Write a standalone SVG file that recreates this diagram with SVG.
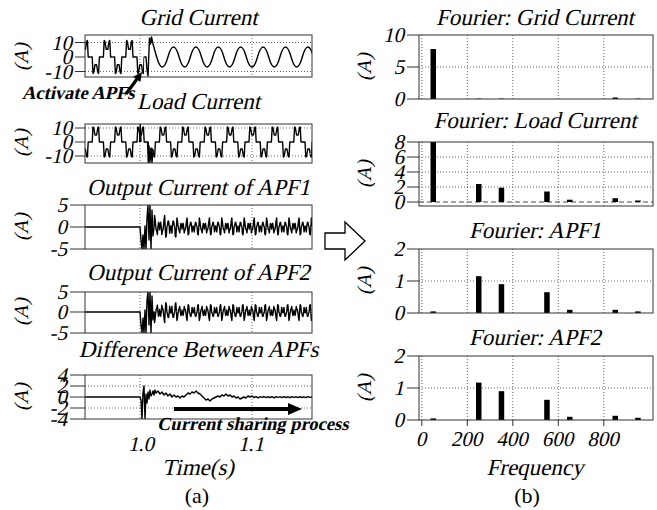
<svg xmlns="http://www.w3.org/2000/svg" width="657" height="510" viewBox="0 0 657 510">
<style>
text{font-family:"Liberation Serif","Times New Roman",serif;fill:#000;font-style:normal}
.ti{font-size:23px;text-anchor:middle}
.tk{font-size:21px;text-anchor:end}
.tx{font-size:21px;text-anchor:middle}
.ya{font-size:20px;text-anchor:middle}
.an{font-weight:bold;font-size:18.5px}
.cap{font-size:22px;text-anchor:middle}
.box{fill:none;stroke:#333;stroke-width:1}
.tick{stroke:#333;stroke-width:1;fill:none}
.grid{fill:none;stroke:#555;stroke-width:0.9;stroke-dasharray:1 2}
.dash{fill:none;stroke:#333;stroke-width:0.9;stroke-dasharray:5 3}
.sig{fill:none;stroke:#000;stroke-width:1.4;stroke-linejoin:round}
.bar{fill:#000}
.tiny{fill:#999}
</style>
<defs>
<clipPath id="c1"><rect x="85" y="35" width="227" height="42"/></clipPath>
<clipPath id="c1a"><rect x="85" y="35" width="59.2" height="42"/></clipPath>
<clipPath id="c2"><rect x="85" y="124" width="227" height="39"/></clipPath>
<clipPath id="c3"><rect x="85" y="205" width="227" height="44"/></clipPath>
<clipPath id="c4"><rect x="85" y="292" width="227" height="41"/></clipPath>
<clipPath id="c5"><rect x="85" y="375" width="227" height="44"/></clipPath>
<path id="lc" vector-effect="non-scaling-stroke" d="M-5.6,0 H-3.6 L-2.8,-15 -2,-14 -0.8,-7 0.8,-7 2,-14 2.8,-15 3.6,0 H7.6 L8.4,15 9.2,14 10.4,7 12,7 13.2,14 14,15 14.8,0 H16.8"/>
<path id="apf" vector-effect="non-scaling-stroke" d="M0,0.7 L0.56,-10.6 1.12,-6.7 1.68,-1.1 2.24,2.8 2.8,3.7 3.36,6.9 3.92,0.3 4.48,-4.3 5.04,-2.9 5.6,2.5 6.16,-2.9 6.72,-4.3 7.28,0.3 7.84,6.9 8.4,3.7 8.96,2.8 9.52,-1.1 10.08,-6.7 10.64,-10.6 11.2,0.7 11.76,9.2 12.32,8.1 12.88,-0.3 13.44,-1.4 14,-5.1 14.56,-5.5 15.12,-1.7 15.68,5.7 16.24,1.5 16.8,-1.1 17.36,1.5 17.92,5.7 18.48,-1.7 19.04,-5.5 19.6,-5.1 20.16,-1.4 20.72,-0.3 21.28,8.1 21.84,9.2 22.4,0.7"/>
</defs>

<!-- (a) Grid Current -->
<g id="a1-grid-current">
<text class="ti" transform="translate(198.5,25) skewX(-13)">Grid Current</text>
<text class="ya" transform="translate(28,57) rotate(-90) skewX(-13)">(A)</text>
<path class="grid" d="M85,42.5 H312 M85,71.5 H312 M140,35 V77 M252,35 V77"/>
<path class="tick" d="M75,42.5 H85 M75,57 H85 M75,71.5 H85"/>
<text class="tk" transform="translate(72,49.5) skewX(-13)">10</text>
<text class="tk" transform="translate(72,64) skewX(-13)">0</text>
<text class="tk" transform="translate(72,78.5) skewX(-13)">-10</text>
<g class="sig" clip-path="url(#c1a)">
<use href="#lc" transform="translate(73.4,57) scale(1,-1.1)"/>
<use href="#lc" transform="translate(95.8,57) scale(1,-1.1)"/>
<use href="#lc" transform="translate(118.2,57) scale(1,-1.1)"/>
<use href="#lc" transform="translate(140.6,57) scale(1,-1.1)"/>
</g>
<path class="sig" clip-path="url(#c1)" d="M144.2,57 L146,57 147,70 148,76 149.5,38 150.5,44 151.5,37 153,44 156.7,57 Q162.3,77 167.9,57 T179.1,57 T190.3,57 T201.5,57 T212.7,57 T223.9,57 T235.1,57 T246.3,57 T257.5,57 T268.7,57 T279.9,57 T291.1,57 T302.3,57 T313.5,57"/>
<rect class="box" x="85" y="35" width="227" height="42"/>
<text class="an" transform="translate(22,99) skewX(-13)">Activate APFs</text>
<line x1="126" y1="94" x2="137" y2="79" stroke="#000" stroke-width="3.2"/>
<polygon points="142,72 140.4,81.9 133.2,76.7" fill="#000"/>
</g>

<!-- (a) Load Current -->
<g id="a2-load-current">
<text class="ti" transform="translate(198.5,109) skewX(-13)">Load Current</text>
<text class="ya" transform="translate(28,143) rotate(-90) skewX(-13)">(A)</text>
<path class="grid" d="M85,128 H312 M85,156 H312 M140,124 V163 M252,124 V163"/>
<path class="tick" d="M75,128 H85 M75,142 H85 M75,156 H85"/>
<text class="tk" transform="translate(72,135) skewX(-13)">10</text>
<text class="tk" transform="translate(72,149) skewX(-13)">0</text>
<text class="tk" transform="translate(72,163) skewX(-13)">-10</text>
<g class="sig" clip-path="url(#c2)">
<use href="#lc" transform="translate(73.4,142)"/>
<use href="#lc" transform="translate(95.8,142)"/>
<use href="#lc" transform="translate(118.2,142)"/>
<use href="#lc" transform="translate(140.6,142)"/>
<use href="#lc" transform="translate(163,142)"/>
<use href="#lc" transform="translate(185.4,142)"/>
<use href="#lc" transform="translate(207.8,142)"/>
<use href="#lc" transform="translate(230.2,142)"/>
<use href="#lc" transform="translate(252.6,142)"/>
<use href="#lc" transform="translate(275,142)"/>
<use href="#lc" transform="translate(297.4,142)"/>
<path d="M139.5,142 L140.3,124.5 141,142 M147.5,142 L148.3,162.5 149,146 150,162.5 151,148 152,162.5 153,150"/>
</g>
<rect class="box" x="85" y="124" width="227" height="39"/>
</g>

<!-- (a) Output Current of APF1 -->
<g id="a3-apf1">
<text class="ti" transform="translate(198.5,195) skewX(-13)">Output Current of APF1</text>
<text class="ya" transform="translate(28,227) rotate(-90) skewX(-13)">(A)</text>
<path class="grid" d="M140,205 V249 M252,205 V249"/>
<path class="tick" d="M70,205 H85 M70,227 H85 M70,249 H85"/>
<text class="tk" transform="translate(67,212) skewX(-13)">5</text>
<text class="tk" transform="translate(67,234) skewX(-13)">0</text>
<text class="tk" transform="translate(67,256) skewX(-13)">-5</text>
<g class="sig" clip-path="url(#c3)">
<path d="M85,227 H140 L141,240 142,249 143,235 144,249 145,226 146,249 147,218 148,205 149,240 150,205 151,249 152,210 153,236 154,227.7"/>
<use href="#apf" transform="translate(154,227) scale(1,1.1)"/>
<use href="#apf" transform="translate(176.4,227) scale(1,0.85)"/>
<use href="#apf" transform="translate(198.8,227) scale(1,0.85)"/>
<use href="#apf" transform="translate(221.2,227) scale(1,0.85)"/>
<use href="#apf" transform="translate(243.6,227) scale(1,0.85)"/>
<use href="#apf" transform="translate(266,227) scale(1,0.85)"/>
<use href="#apf" transform="translate(288.4,227) scale(1,0.85)"/>
<use href="#apf" transform="translate(310.8,227) scale(1,0.85)"/>
</g>
<rect class="box" x="85" y="205" width="227" height="44"/>
</g>

<!-- (a) Output Current of APF2 -->
<g id="a4-apf2">
<text class="ti" transform="translate(198.5,280) skewX(-13)">Output Current of APF2</text>
<text class="ya" transform="translate(28,312) rotate(-90) skewX(-13)">(A)</text>
<path class="grid" d="M140,292 V333 M252,292 V333"/>
<path class="tick" d="M70,292 H85 M70,312 H85 M70,333 H85"/>
<text class="tk" transform="translate(67,299) skewX(-13)">5</text>
<text class="tk" transform="translate(67,319) skewX(-13)">0</text>
<text class="tk" transform="translate(67,340) skewX(-13)">-5</text>
<g class="sig" clip-path="url(#c4)">
<path d="M85,312 H140 L141,325 142,333 143,318 144,333 145,310 146,333 147,300 148,292 149,325 150,292 151,333 152,296 153,320 154,312"/>
<use href="#apf" transform="translate(154,312) scale(1,-1)"/>
<use href="#apf" transform="translate(176.4,312) scale(1,-0.8)"/>
<use href="#apf" transform="translate(198.8,312) scale(1,-0.8)"/>
<use href="#apf" transform="translate(221.2,312) scale(1,-0.8)"/>
<use href="#apf" transform="translate(243.6,312) scale(1,-0.8)"/>
<use href="#apf" transform="translate(266,312) scale(1,-0.8)"/>
<use href="#apf" transform="translate(288.4,312) scale(1,-0.8)"/>
<use href="#apf" transform="translate(310.8,312) scale(1,-0.8)"/>
</g>
<rect class="box" x="85" y="292" width="227" height="41"/>
</g>

<!-- (a) Difference Between APFs -->
<g id="a5-difference">
<text class="ti" transform="translate(198.5,357) skewX(-13)">Difference Between APFs</text>
<text class="ya" transform="translate(28,397) rotate(-90) skewX(-13)">(A)</text>
<path class="grid" d="M85,386 H312 M85,408 H312 M140,375 V419 M252,375 V419"/>
<path class="tick" d="M70,375 H85 M70,386 H85 M70,397 H85 M70,408 H85 M70,419 H85"/>
<text class="tk" transform="translate(67,382) skewX(-13)">4</text>
<text class="tk" transform="translate(67,393) skewX(-13)">2</text>
<text class="tk" transform="translate(67,404) skewX(-13)">0</text>
<text class="tk" transform="translate(67,415) skewX(-13)">-2</text>
<text class="tk" transform="translate(67,426) skewX(-13)">-4</text>
<path class="sig" clip-path="url(#c5)" d="M85,397 H140 L141,400 142,419 143,392 144,386 145,419 146,394 147,403 148,392 149,399 150,390 151,396 152,394 153,391 154,395 155,390 156,393 158,391 160,394 162,392 164,395 166,393 168,396 170,394 172,397 174,395 176,397 178,396 180,398 182,396 184,397 186,395 188,393 190,394 192,392 194,393 196,391 198,393 200,394 202,396 204,398 206,400 208,399 210,401 212,399 214,398 216,397 218,396 220,397 222,395 224,396 226,394 228,396 230,395 232,397 234,396 236,398 238,397 240,399 242,398 244,397 246,398 248,396 250,397 252,396 254,397.6 256,396.6 258,397.8 260,396.8 262,397.4 264,396.5 266,397.6 268,396.8 270,397.5 272,396.7 274,397.8 276,396.6 278,397.4 280,396.9 282,397.6 284,396.6 286,397.5 288,396.8 290,397.7 292,396.7 294,397.4 296,396.8 298,397.6 300,396.7 302,397.5 304,396.9 306,397.6 308,396.7 310,397.4 312,397"/>
<rect class="box" x="85" y="375" width="227" height="44"/>
<line x1="174" y1="409" x2="290" y2="409" stroke="#000" stroke-width="4"/>
<polygon points="302,409 288,403 288,415" fill="#000"/>
<text class="an" transform="translate(157,430) skewX(-13)">Current sharing process</text>
<text class="tx" transform="translate(141,451) skewX(-13)">1.0</text>
<text class="tx" transform="translate(251,451) skewX(-13)">1.1</text>
<text class="ti" transform="translate(198,475) skewX(-13)">Time(s)</text>
<text class="cap" x="197" y="503">(a)</text>
</g>

<!-- (b) Fourier: Grid Current -->
<g id="b1-fourier-grid">
<text class="ti" transform="translate(535,25) skewX(-13)">Fourier: Grid Current</text>
<text class="ya" transform="translate(371,67) rotate(-90) skewX(-13)">(A)</text>
<path class="grid" d="M421.8,35 V99 M467.3,35 V99 M512.8,35 V99 M558.3,35 V99 M603.8,35 V99 M419,67 H653"/>
<path class="tick" d="M407,35 H419 M407,67 H419 M407,99 H419"/>
<text class="tk" transform="translate(404,42) skewX(-13)">10</text>
<text class="tk" transform="translate(404,74) skewX(-13)">5</text>
<text class="tk" transform="translate(404,106) skewX(-13)">0</text>
<rect class="bar" x="430.5" y="49" width="5.5" height="50"/>
<rect class="tiny" x="476" y="98" width="5.5" height="1"/>
<rect class="tiny" x="498.7" y="98" width="5.5" height="1"/>
<rect class="bar" x="612.5" y="97.5" width="5.5" height="1.5"/>
<rect class="tiny" x="635.2" y="98" width="5.5" height="1"/>
<rect class="box" x="419" y="35" width="234" height="64"/>
</g>

<!-- (b) Fourier: Load Current -->
<g id="b2-fourier-load">
<text class="ti" transform="translate(535,128) skewX(-13)">Fourier: Load Current</text>
<text class="ya" transform="translate(371,174) rotate(-90) skewX(-13)">(A)</text>
<path class="grid" d="M421.8,142 V206 M467.3,142 V206 M512.8,142 V206 M558.3,142 V206 M603.8,142 V206 M419,157 H653 M419,172 H653 M419,187 H653"/>
<path class="dash" d="M419,202 H653"/>
<path class="tick" d="M407,142 H419 M407,157 H419 M407,172 H419 M407,187 H419 M407,202 H419"/>
<text class="tk" transform="translate(404,149) skewX(-13)">8</text>
<text class="tk" transform="translate(404,164) skewX(-13)">6</text>
<text class="tk" transform="translate(404,179) skewX(-13)">4</text>
<text class="tk" transform="translate(404,194) skewX(-13)">2</text>
<text class="tk" transform="translate(404,209) skewX(-13)">0</text>
<rect class="bar" x="430.5" y="142" width="5.5" height="60"/>
<rect class="bar" x="476" y="184" width="5.5" height="18"/>
<rect class="bar" x="498.7" y="187.7" width="5.5" height="14.3"/>
<rect class="bar" x="544.2" y="191.5" width="5.5" height="10.5"/>
<rect class="bar" x="567" y="199.7" width="5.5" height="2.3"/>
<rect class="bar" x="612.5" y="198.2" width="5.5" height="3.8"/>
<rect class="bar" x="635.2" y="200.5" width="5.5" height="1.5"/>
<rect class="box" x="419" y="142" width="234" height="64"/>
</g>

<!-- (b) Fourier: APF1 -->
<g id="b3-fourier-apf1">
<text class="ti" transform="translate(535,238) skewX(-13)">Fourier: APF1</text>
<text class="ya" transform="translate(371,281) rotate(-90) skewX(-13)">(A)</text>
<path class="grid" d="M421.8,249 V313 M467.3,249 V313 M512.8,249 V313 M558.3,249 V313 M603.8,249 V313 M419,281 H653"/>
<path class="tick" d="M407,249 H419 M407,281 H419 M407,313 H419"/>
<text class="tk" transform="translate(404,256) skewX(-13)">2</text>
<text class="tk" transform="translate(404,288) skewX(-13)">1</text>
<text class="tk" transform="translate(404,320) skewX(-13)">0</text>
<rect class="bar" x="430.5" y="311.4" width="5.5" height="1.6"/>
<rect class="bar" x="476" y="276.2" width="5.5" height="36.8"/>
<rect class="bar" x="498.7" y="284.2" width="5.5" height="28.8"/>
<rect class="bar" x="544.2" y="292.2" width="5.5" height="20.8"/>
<rect class="bar" x="567" y="309.8" width="5.5" height="3.2"/>
<rect class="bar" x="612.5" y="309.8" width="5.5" height="3.2"/>
<rect class="bar" x="635.2" y="311.4" width="5.5" height="1.6"/>
<rect class="box" x="419" y="249" width="234" height="64"/>
</g>

<!-- (b) Fourier: APF2 -->
<g id="b4-fourier-apf2">
<text class="ti" transform="translate(535,345) skewX(-13)">Fourier: APF2</text>
<text class="ya" transform="translate(371,388) rotate(-90) skewX(-13)">(A)</text>
<path class="grid" d="M421.8,356 V420 M467.3,356 V420 M512.8,356 V420 M558.3,356 V420 M603.8,356 V420 M419,388 H653"/>
<path class="tick" d="M407,356 H419 M407,388 H419 M407,420 H419 M421.8,420 V426 M467.3,420 V426 M512.8,420 V426 M558.3,420 V426 M603.8,420 V426"/>
<text class="tk" transform="translate(404,363) skewX(-13)">2</text>
<text class="tk" transform="translate(404,395) skewX(-13)">1</text>
<text class="tk" transform="translate(404,427) skewX(-13)">0</text>
<rect class="bar" x="430.5" y="418.4" width="5.5" height="1.6"/>
<rect class="bar" x="476" y="382.6" width="5.5" height="37.4"/>
<rect class="bar" x="498.7" y="391.2" width="5.5" height="28.8"/>
<rect class="bar" x="544.2" y="399.8" width="5.5" height="20.2"/>
<rect class="bar" x="567" y="416.8" width="5.5" height="3.2"/>
<rect class="bar" x="612.5" y="415.8" width="5.5" height="4.2"/>
<rect class="bar" x="635.2" y="417.8" width="5.5" height="2.2"/>
<rect class="box" x="419" y="356" width="234" height="64"/>
<text class="tx" transform="translate(421,446) skewX(-13)">0</text>
<text class="tx" transform="translate(466.5,446) skewX(-13)">200</text>
<text class="tx" transform="translate(512,446) skewX(-13)">400</text>
<text class="tx" transform="translate(557.5,446) skewX(-13)">600</text>
<text class="tx" transform="translate(603,446) skewX(-13)">800</text>
<text class="ti" transform="translate(535,475) skewX(-13)">Frequency</text>
<text class="cap" x="527" y="503">(b)</text>
</g>

<g id="connectors">
<polygon points="325,233 345,233 345,222 365,241 345,260 345,249 325,249" fill="#fff" stroke="#000" stroke-width="1.3" stroke-linejoin="miter"/>
</g>
</svg>
